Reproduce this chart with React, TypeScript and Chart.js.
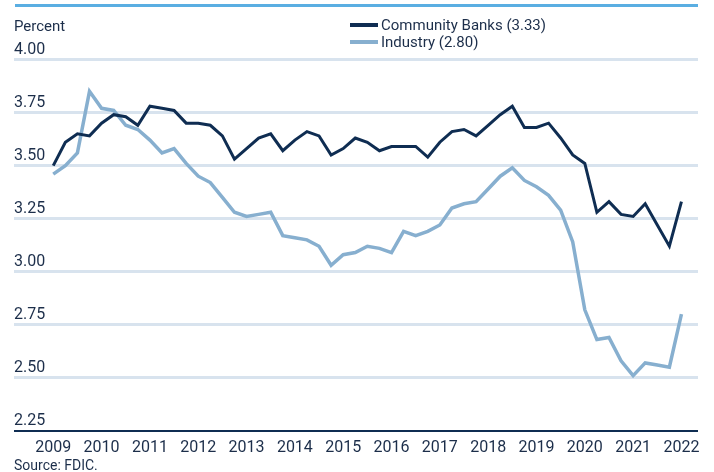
import React, { useEffect, useRef } from 'react';
import { Chart, registerables } from 'chart.js';

Chart.register(...registerables);

const years = ['2009', '2010', '2011', '2012', '2013', '2014', '2015', '2016', '2017', '2018', '2019', '2020', '2021', '2022'];

const communityBanks = [
  3.50, 3.61, 3.65, 3.64, 3.70, 3.74, 3.73, 3.69, 3.78, 3.77, 3.76, 3.70, 3.70,
  3.69, 3.64, 3.53, 3.58, 3.63, 3.65, 3.57, 3.62, 3.66, 3.64, 3.55, 3.58, 3.63,
  3.61, 3.57, 3.59, 3.59, 3.59, 3.54, 3.61, 3.66, 3.67, 3.64, 3.69, 3.74, 3.78,
  3.68, 3.68, 3.70, 3.63, 3.55, 3.51, 3.28, 3.33, 3.27, 3.26, 3.32, 3.22, 3.12, 3.33,
];

const industry = [
  3.46, 3.50, 3.56, 3.85, 3.77, 3.76, 3.69, 3.67, 3.62, 3.56, 3.58, 3.51, 3.45,
  3.42, 3.35, 3.28, 3.26, 3.27, 3.28, 3.17, 3.16, 3.15, 3.12, 3.03, 3.08, 3.09,
  3.12, 3.11, 3.09, 3.19, 3.17, 3.19, 3.22, 3.30, 3.32, 3.33, 3.39, 3.45, 3.49,
  3.43, 3.40, 3.36, 3.29, 3.14, 2.82, 2.68, 2.69, 2.58, 2.51, 2.57, 2.56, 2.55, 2.80,
];

const yTicks = [2.25, 2.5, 2.75, 3.0, 3.25, 3.5, 3.75, 4.0];

const seriesLabels = ['Community Banks (3.33)', 'Industry (2.80)'];

const NAVY = '#0f2d52';
const LIGHT = '#87afcf';
const GRID = '#d8e3ee';
const TEXT = '#1c2e4a';
const FONT = 'Roboto';

export default function App() {
  const ref = useRef<HTMLCanvasElement>(null);

  useEffect(() => {
    const chart = new Chart(ref.current as HTMLCanvasElement, {
      type: 'line',
      data: {
        datasets: [
          {
            label: seriesLabels[0],
            data: communityBanks.map((y, i) => ({ x: i, y })),
            borderColor: NAVY,
            borderWidth: 3,
            pointRadius: 0,
            tension: 0,
            fill: false,
          },
          {
            label: seriesLabels[1],
            data: industry.map((y, i) => ({ x: i, y })),
            borderColor: LIGHT,
            borderWidth: 3.5,
            pointRadius: 0,
            tension: 0,
            fill: false,
          },
        ],
      },
      options: {
        animation: false,
        responsive: false,
        maintainAspectRatio: false,
        layout: { padding: { left: 14, right: 16, top: 59.5, bottom: 6 } },
        plugins: { legend: { display: false }, tooltip: { enabled: false } },
        scales: {
          x: {
            type: 'linear',
            min: -3.25,
            max: 53.37,
            grid: { display: false, drawTicks: false, tickLength: 0 },
            border: { display: false },
            afterBuildTicks: (s: any) => {
              s.ticks = years.map((_, i) => ({ value: i * 4 }));
            },
            ticks: {
              autoSkip: false,
              maxRotation: 0,
              padding: 8,
              font: { family: FONT, size: 16 },
              color: TEXT,
              callback: (v: any) => years[Math.round(Number(v) / 4)] ?? '',
            },
          },
          y: {
            type: 'linear',
            min: 2.25,
            max: 4,
            afterBuildTicks: (s: any) => {
              s.ticks = yTicks.map((v) => ({ value: v }));
            },
            grid: {
              color: (ctx: any) => (ctx.tick && ctx.tick.value === 2.25 ? NAVY : GRID),
              lineWidth: (ctx: any) => (ctx.tick && ctx.tick.value === 2.25 ? 2 : 3),
              drawTicks: false,
              tickLength: 0,
            },
            border: { display: false },
            ticks: {
              mirror: true,
              padding: 0,
              labelOffset: -10,
              font: { family: FONT, size: 16 },
              color: TEXT,
              callback: (v: any) => Number(v).toFixed(2),
            },
          },
        },
      },
    });
    return () => chart.destroy();
  }, []);

  const legendRow = (label: string, color: string, top: number) => (
    <div style={{ position: 'absolute', left: 350, top, height: 16, display: 'flex', alignItems: 'center' }}>
      <div style={{ width: 28, height: 4, background: color, marginRight: 3 }} />
      <span style={{ fontSize: 15, color: TEXT, lineHeight: '16px' }}>{label}</span>
    </div>
  );

  return (
    <div style={{ position: 'fixed', left: 0, top: 0, width: 714, height: 472, background: '#fff', fontFamily: FONT }}>
      <canvas ref={ref} width={714} height={472} style={{ display: 'block', position: 'absolute', left: 0, top: 0 }} />
      <div style={{ position: 'absolute', left: 15, top: 4, width: 683, height: 3, background: '#5aaee2' }} />
      <div style={{ position: 'absolute', left: 14, top: 16, fontSize: 15, color: TEXT, lineHeight: '20px' }}>Percent</div>
      {legendRow(seriesLabels[0], NAVY, 17)}
      {legendRow(seriesLabels[1], LIGHT, 34)}
      <div style={{ position: 'absolute', left: 14, top: 456, fontSize: 14, color: TEXT, lineHeight: '18px' }}>Source: FDIC.</div>
    </div>
  );
}
